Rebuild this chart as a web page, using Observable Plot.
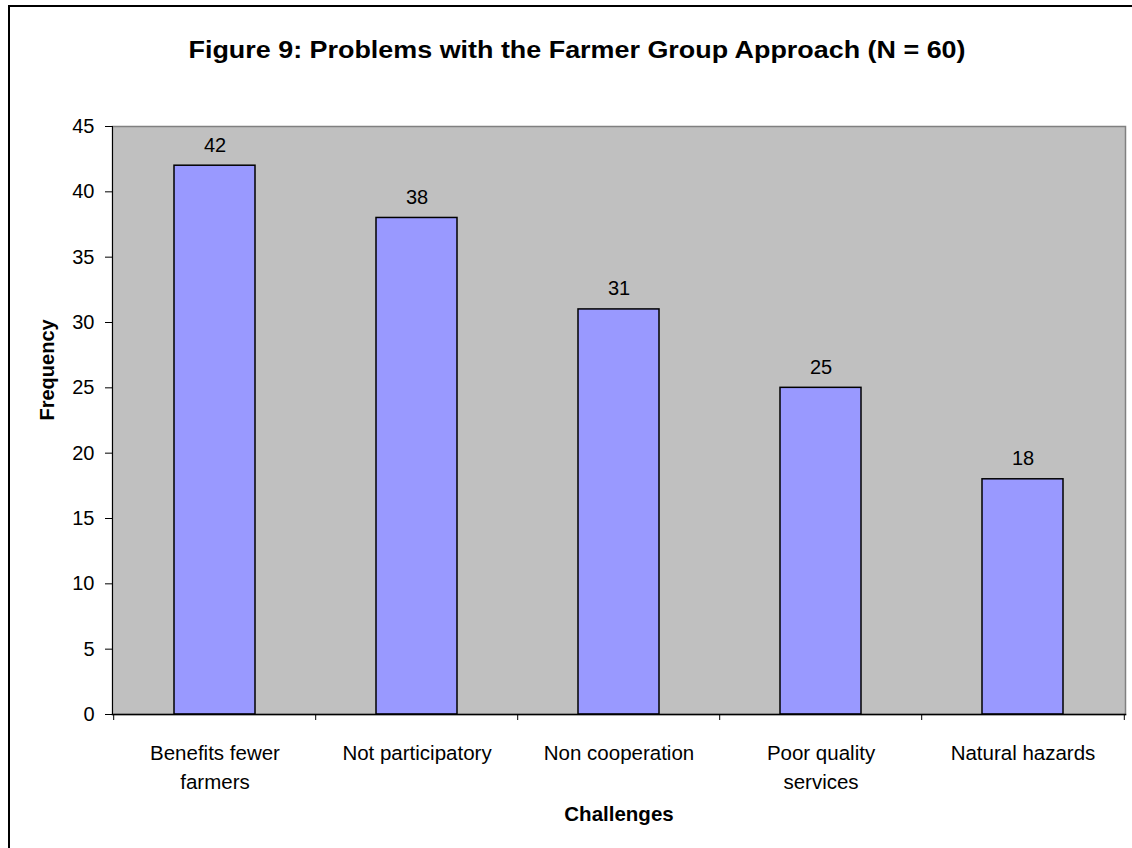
<!DOCTYPE html>
<html>
<head>
<meta charset="utf-8">
<script src="https://cdn.jsdelivr.net/npm/d3@7"></script>
<script src="https://cdn.jsdelivr.net/npm/@observablehq/plot@0.6"></script>
<style>
  html, body { margin: 0; padding: 0; background: #fff; overflow: hidden; width: 1132px; height: 848px; }
  #border { position: absolute; left: 8px; top: 5px; width: 3000px; height: 3000px; border: 2px solid #000; box-sizing: border-box; }
  #chart { position: absolute; left: 0; top: 0; }
</style>
</head>
<body>
<div id="border"></div>
<div id="chart"></div>
<script>
const categories = ["Benefits fewer farmers", "Not participatory", "Non cooperation", "Poor quality services", "Natural hazards"];
const frequencies = [42, 38, 31, 25, 18];
const categoryLabels = ["Benefits fewer\nfarmers", "Not participatory", "Non cooperation", "Poor quality\nservices", "Natural hazards"];
const yTicks = [0, 5, 10, 15, 20, 25, 30, 35, 40, 45];
const titleText = "Figure 9: Problems with the Farmer Group Approach (N = 60)";
const yTitle = "Frequency";
const xTitle = "Challenges";

const data = categories.map((c, i) => ({category: c, value: frequencies[i]}));
const labelOf = new Map(categories.map((c, i) => [c, categoryLabels[i]]));

const width = 1132, height = 848;
const marginLeft = 112, marginRight = 7, marginTop = 126, marginBottom = 134;
const step = (width - marginLeft - marginRight) / categories.length;
const font = "Liberation Sans, Arial, sans-serif";

const chart = Plot.plot({
  width, height, marginLeft, marginRight, marginTop, marginBottom,
  style: {fontFamily: font, background: "transparent", color: "#000"},
  x: {domain: categories, paddingInner: 0.6, paddingOuter: 0.3},
  y: {domain: [0, 45]},
  marks: [
    Plot.frame({fill: "#c0c0c0", stroke: "#808080", strokeWidth: 1.5}),
    Plot.barY(data, {x: "category", y: "value", fill: "#9999ff", stroke: "#000", strokeWidth: 1.5}),
    Plot.frame({anchor: "left", stroke: "#000", strokeWidth: 1}),
    Plot.frame({anchor: "bottom", stroke: "#000", strokeWidth: 1.5}),
    Plot.axisY({ticks: yTicks, tickSize: 7, tickPadding: 11, fontSize: 20, label: null}),
    Plot.axisX({tickSize: 0, tickPadding: 25, fontSize: 20.5, lineHeight: 1.42, tickFormat: d => labelOf.get(d), label: null}),
    Plot.axisX({tickSize: 6, tickFormat: () => "", dx: -step / 2, label: null}),
    Plot.axisX({ticks: [categories[categories.length - 1]], tickSize: 6, tickFormat: () => "", dx: step / 2, label: null}),
    Plot.text(data, {x: "category", y: "value", text: d => String(d.value), lineAnchor: "bottom", dy: -14, fontSize: 20, fill: "#000"}),
    Plot.text([titleText], {frameAnchor: "top", text: d => d, lineAnchor: "bottom", dy: -69, dx: -42, fontSize: 23.5, fontWeight: "bold", fill: "#000"}),
    Plot.text([yTitle], {frameAnchor: "left", text: d => d, rotate: -90, dx: -65, fontSize: 20, fontWeight: "bold", fill: "#000"}),
    Plot.text([xTitle], {frameAnchor: "bottom", text: d => d, lineAnchor: "middle", dy: 100, fontSize: 20.5, fontWeight: "bold", fill: "#000"})
  ]
});
d3.select(chart).selectAll("text")
  .filter(function() { return this.textContent === titleText; })
  .attr("textLength", 777)
  .attr("lengthAdjust", "spacingAndGlyphs");
document.getElementById("chart").appendChild(chart);
</script>
</body>
</html>
